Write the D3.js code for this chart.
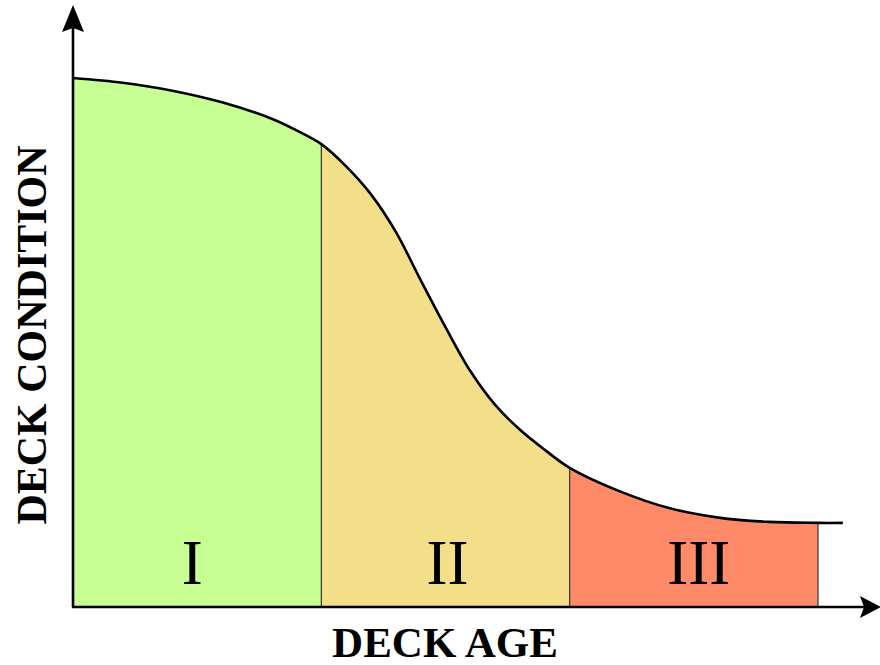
<!DOCTYPE html>
<html>
<head>
<meta charset="utf-8">
<script src="https://cdn.jsdelivr.net/npm/d3@7"></script>
<style>
  html, body { margin: 0; padding: 0; background: #ffffff; }
</style>
</head>
<body>
<div id="chart"></div>
<script>

// deck age (years) and condition (%)
const ages       = [0,   2,    4,    6,    8,    9,    10,   11,   12,   13,   14,   15,   16,   17,   18,   19,   20,   22,   24,   26,   28,   30,   31];
const conditions = [100, 99.1, 97.6, 95.4, 92.3, 90.1, 87.5, 83.3, 78.0, 70.9, 61.8, 52.9, 44.6, 38.2, 33.5, 29.7, 26.3, 21.9, 18.7, 16.9, 16.1, 15.9, 15.9];

// deterioration stages
const stageLabels = ["I", "II", "III"];
const stageStart  = [0, 10, 20];
const stageEnd    = [10, 20, 30];
const stageColors = ["#c7ff95", "#f3df89", "#ff8a6a"];


const W = 880, H = 665;
const fontFamily = "'Liberation Serif', 'Times New Roman', serif";

const svg = d3.select("#chart").append("svg")
  .attr("width", W)
  .attr("height", H);

const x = d3.scaleLinear().domain([0, 30]).range([73, 818]);
const y = d3.scaleLinear().domain([0, 100]).range([607, 78]);

const pts = ages.map((a, i) => ({ age: a, cond: conditions[i] }));

const area = d3.area()
  .x(d => x(d.age))
  .y0(y(0))
  .y1(d => y(d.cond))
  .curve(d3.curveCatmullRom.alpha(0.5));

const line = d3.line()
  .x(d => x(d.age))
  .y(d => y(d.cond))
  .curve(d3.curveCatmullRom.alpha(0.5));

const defs = svg.append("defs");

// one clipped copy of the area per stage
stageLabels.forEach(function (lab, i) {

  defs.append("clipPath")
    .attr("id", "clip" + i)
    .append("rect")
    .attr("x", x(stageStart[i]))
    .attr("y", 0)
    .attr("width", x(stageEnd[i]) - x(stageStart[i]))
    .attr("height", H);

  svg.append("path")
    .datum(pts)
    .attr("clip-path", "url(#clip" + i + ")")
    .attr("d", area)
    .attr("fill", stageColors[i]);

});

// stage dividers
const curveAt = function (age) {
  let i = ages.indexOf(age);
  return conditions[i];
};

svg.selectAll("line.divider")
  .data(stageEnd)
  .enter()
  .append("line")
  .attr("class", "divider")
  .attr("x1", d => x(d))
  .attr("x2", d => x(d))
  .attr("y1", d => y(curveAt(d)))
  .attr("y2", y(0))
  .attr("stroke", "#333333")
  .attr("stroke-width", 1.2);

// curve
svg.append("path")
  .datum(pts)
  .attr("d", line)
  .attr("fill", "none")
  .attr("stroke", "#000000")
  .attr("stroke-width", 2.6);

// stage labels
const labelShift = [-5, 2, 5];
svg.selectAll("text.stage")
  .data(stageLabels)
  .enter()
  .append("text")
  .attr("class", "stage")
  .attr("text-anchor", "middle")
  .attr("x", (d, i) => (x(stageStart[i]) + x(stageEnd[i])) / 2 + labelShift[i])
  .attr("y", 584)
  .text(d => d)
  .attr("font-family", fontFamily)
  .attr("font-size", 63)
  .attr("fill", "#000000");

// axes with arrows
const axes = svg.append("g");

axes.append("line")
  .attr("x1", 73).attr("y1", y(0))
  .attr("x2", 73).attr("y2", 22)
  .attr("stroke", "#000").attr("stroke-width", 2.6);

axes.append("line")
  .attr("x1", 72).attr("y1", y(0))
  .attr("x2", 866).attr("y2", y(0))
  .attr("stroke", "#000").attr("stroke-width", 2.6);

axes.append("path")
  .attr("d", "M73,5 L84,32 L73,28 L62,32 Z")
  .attr("fill", "#000");

axes.append("path")
  .attr("d", "M881,607 L860,596 L864,607 L860,618 Z")
  .attr("fill", "#000");

// axis titles
svg.append("text")
  .attr("text-anchor", "middle")
  .attr("x", 445)
  .attr("y", 657)
  .text("DECK AGE")
  .attr("font-family", fontFamily)
  .attr("font-weight", "bold")
  .attr("font-size", 43)
  .attr("fill", "#000");

svg.append("text")
  .attr("text-anchor", "middle")
  .attr("transform", "translate(46,335) rotate(-90)")
  .text("DECK CONDITION")
  .attr("font-family", fontFamily)
  .attr("font-weight", "bold")
  .attr("font-size", 42)
  .attr("fill", "#000");

</script>
</body>
</html>
